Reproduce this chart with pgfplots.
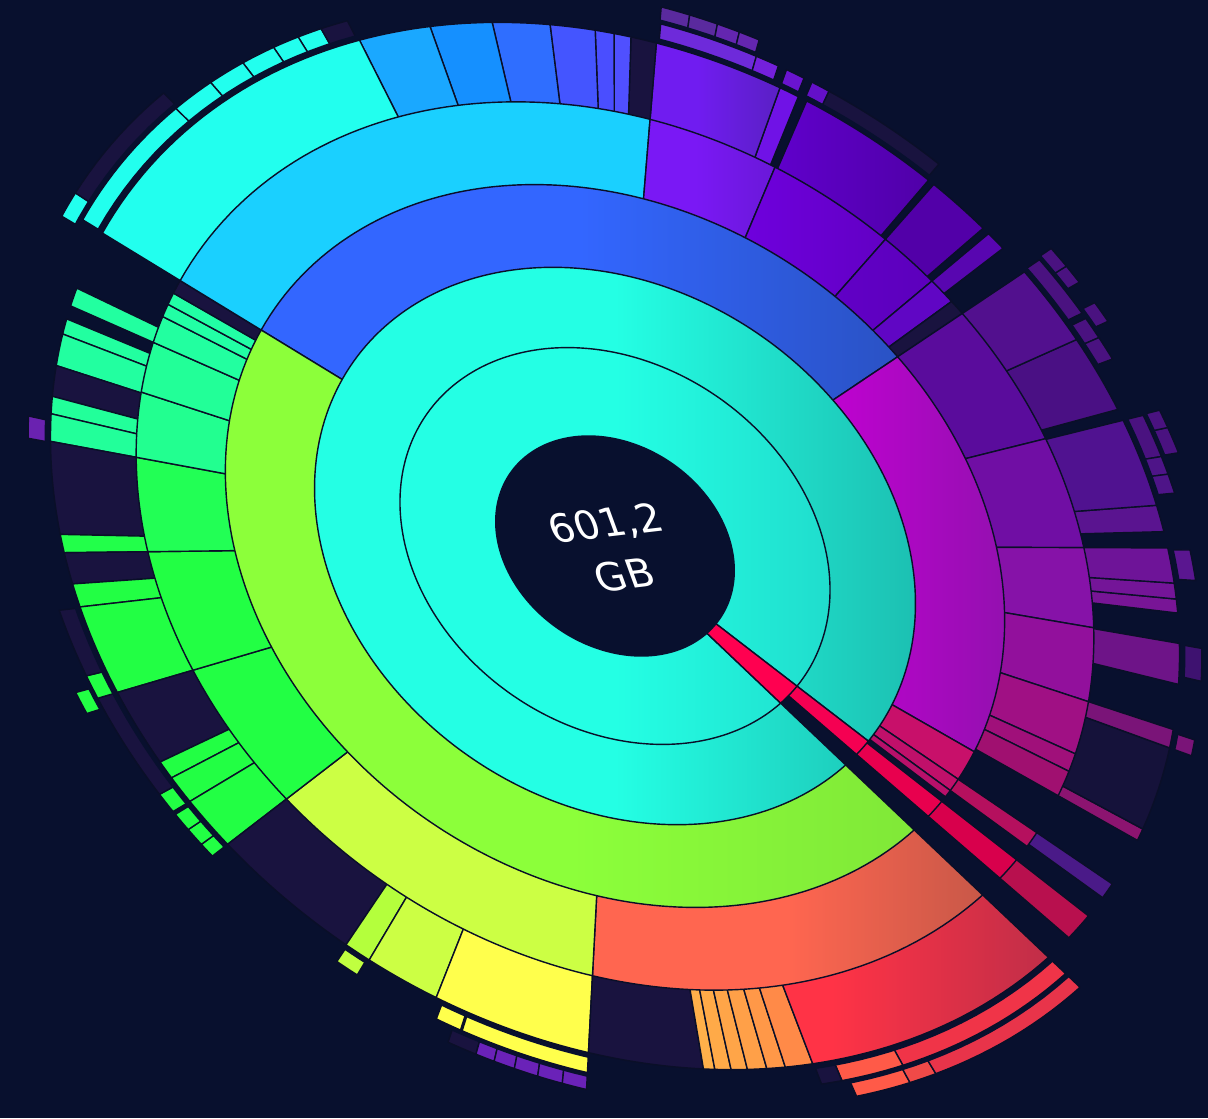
\documentclass[border=0pt]{standalone}
\usepackage{pgfplots}
\usepackage{pgfplotstable}
\pgfplotsset{compat=1.18}
\usepackage{fontspec}
\setmainfont{DejaVu Sans}
\definecolor{bgc}{HTML}{08102E}
\definecolor{linec}{HTML}{0A0F28}

% ring tables: a = start angle, b = end angle (degrees), c = colour (left), d = colour (right)
\pgfplotstableread{
a b c d
-37.6 316.5 24FFE4 20DDCD
-43.5 -37.6 FF0050 FF0050
}\ringA
\pgfplotstableread{
a b c d
-37.6 316.5 24FFE4 1CC0B2
-40.8 -37.6 F50052 F50052
}\ringB
\pgfplotstableread{
a b c d
33.8 148.6 3366FF 2A52C4
148.6 316.5 8CFF3A 80E838
-29.8 33.8 C400D4 9410B0
-34.2 -29.8 C8106A C8106A
-36.1 -34.2 C0106A C0106A
-37.2 -36.1 B8106A B8106A
-40.8 -38.0 E8004E E8004E
}\ringC
\pgfplotstableread{
a b c d
267.0 316.5 FF6650 C85848
217.6 267.0 CCFF44 CCFF44
196.4 217.6 22FF44 22FF44
180.7 196.4 22FF44 22FF44
169.5 180.7 22FF55 22FF55
162.0 169.5 22FF90 22FF90
156.2 162.0 22FF98 22FF98
153.1 156.2 22FFA0 22FFA0
151.6 153.1 22FFA5 22FFA5
150.2 151.6 22FFA5 22FFA5
148.6 150.2 19133F 19133F
85.3 148.6 1AD0FF 1AD0FF
67.1 85.3 7A18F5 6A18D8
48.6 67.1 6E00DC 6200C4
39.9 48.6 6400CC 5C00BC
36.0 39.9 6006C4 6006C4
33.8 36.0 19133F 19133F
14.0 33.8 5A0C9C 5A0C9C
-0.2 14.0 700EA4 700EA4
-9.7 -0.2 8612A8 8612A8
-18.2 -9.7 92109C 92109C
-24.3 -18.2 A01084 A01084
-26.4 -24.3 A0107A A0107A
-29.4 -26.4 A01070 A01070
-36.1 -34.2 B5105E B5105E
-40.8 -38.0 D8004C D8004C
}\ringD
\pgfplotstableread{
a b c d
154.4 156.2 22FFA0 22FFA0
157.5 159.0 22FFA0 22FFA0
159.0 162.1 22FFA0 22FFA0
162.1 165.1 19133F 19133F
165.1 166.8 22FF9A 22FF9A
166.8 169.5 22FF9A 22FF9A
169.5 178.8 19133F 19133F
178.8 180.7 22FF4A 22FF4A
180.7 184.0 19133F 19133F
184.0 186.5 22FF44 22FF44
186.5 196.4 22FF44 22FF44
196.4 205.4 19133F 19133F
205.4 207.6 22FF44 22FF44
207.6 211.0 22FF44 22FF44
211.0 217.6 22FF44 22FF44
217.6 236.0 19133F 19133F
236.0 239.3 B4FF3C B4FF3C
239.3 248.4 CCFF44 CCFF44
248.4 267.0 FFFF4C FFFF4C
267.0 279.6 19133F 19133F
279.6 280.8 FFB04A FFB04A
280.8 282.5 FFAA48 FFAA48
282.5 284.2 FFA548 FFA548
284.2 286.2 FFA048 FFA048
286.2 288.1 FF9848 FF9848
288.1 290.9 FF8A48 FF8A48
290.9 316.5 FF3346 C02E48
-40.8 -38.0 B8104E B8104E
-35.8 -34.2 4A1A88 4A1A88
-29.4 -28.2 8C1470 8C1470
-28.2 -20.0 15123A 15123A
-20.0 -18.2 7A1478 7A1478
-13.8 -9.8 6E1488 6E1488
-6.8 -5.4 781596 781596
-5.4 -3.8 741598 741598
-3.8 -0.2 6E1498 6E1498
1.5 4.3 5A1490 5A1490
4.3 13.9 501290 501290
15.2 24.1 4A1084 4A1084
24.1 33.8 52108E 52108E
37.5 39.9 5806B0 5806B0
40.8 48.6 5200A8 5200A8
49.4 66.7 6000CC 5000A8
67.8 70.2 7012E6 7012E6
70.2 85.3 701CF0 5A20C4
85.3 88.2 19133F 19133F
88.2 90.1 5050FF 5050FF
90.1 92.2 4A4EFF 4A4EFF
92.2 97.1 4455FF 4455FF
97.1 103.2 2F6EFF 2F6EFF
103.2 109.6 1590FF 1590FF
109.6 116.8 1AA8FF 1AA8FF
116.8 148.6 22FFEE 22FFEE
}\ringE
\pgfplotstableread{
a b c d
119.6 121.9 22FFEE 22FFEE
121.9 124.4 22FFEE 22FFEE
124.4 127.6 22FFEE 22FFEE
127.6 131.1 22FFEE 22FFEE
131.1 135.1 22FFEE 22FFEE
135.1 148.5 22FFEE 22FFEE
117.0 119.6 19133F 19133F
73.9 85.0 6E2ADA 6E2ADA
71.2 73.9 7420DC 7420DC
68.0 70.2 6A14D0 6A14D0
64.8 67.0 6410C8 6410C8
49.7 64.8 19133F 19133F
26.5 34.0 4A1280 4A1280
23.3 25.8 4A1280 4A1280
20.6 23.3 4A1280 4A1280
9.3 13.9 4A1280 4A1280
7.4 9.3 4E1488 4E1488
5.4 7.4 4E1488 4E1488
-3.4 -0.4 5A1690 5A1690
-13.0 -9.9 3E1270 3E1270
-20.0 -18.5 7A1478 7A1478
-61.0 -43.5 F03448 F03448
-67.0 -61.0 FF5A48 FF5A48
-69.0 -67.0 19133F 19133F
252.5 267.0 FFFF4C FFFF4C
249.3 252.3 FFFF4C FFFF4C
236.2 239.0 C0FF40 C0FF40
215.8 217.6 22FF44 22FF44
213.6 215.8 22FF44 22FF44
211.4 213.6 22FF44 22FF44
208.6 211.0 22FF44 22FF44
196.4 208.6 19133F 19133F
193.8 196.4 22FF44 22FF44
186.6 193.8 19133F 19133F
167.5 169.6 6A22B0 6A22B0
}\ringF
\pgfplotstableread{
a b c d
146.8 149.2 22FFEE 22FFEE
134.9 146.8 19133F 19133F
82.0 85.1 5A2A9E 5A2A9E
78.9 82.0 5A2A9E 5A2A9E
76.4 78.9 6426B0 6426B0
74.1 76.4 6426B0 6426B0
29.6 31.8 4A1280 4A1280
31.8 34.3 4A1280 4A1280
24.5 26.9 4A1280 4A1280
9.4 12.1 4A1280 4A1280
12.1 14.0 4A1280 4A1280
-66.3 -61.2 FF5A48 FF5A48
-61.2 -58.7 F04A48 F04A48
-58.7 -43.5 E8344A E8344A
251.4 254.7 19133F 19133F
254.7 256.8 6A22B8 6A22B8
256.8 259.1 6A22B8 6A22B8
259.1 261.7 6A22B8 6A22B8
261.7 264.4 6A22B8 6A22B8
264.4 267.0 6A22B8 6A22B8
195.2 197.6 22FF44 22FF44
}\ringG

% #1 table, #2 minor semi-axis, #3 axis ratio, #4 tag
\newcommand{\drawring}[4]{%
  \pgfplotstablegetrowsof{#1}%
  \pgfmathtruncatemacro\nrows{\pgfplotsretval-1}%
  \pgfplotsforeachungrouped \segi in {0,...,\nrows}{%
    \pgfplotstablegetelem{\segi}{a}\of#1\let\SA\pgfplotsretval
    \pgfplotstablegetelem{\segi}{b}\of#1\let\SB\pgfplotsretval
    \pgfplotstablegetelem{\segi}{c}\of#1\let\SC\pgfplotsretval
    \pgfplotstablegetelem{\segi}{d}\of#1\let\SD\pgfplotsretval
    \definecolor{segl#4\segi}{HTML}{\SC}%
    \definecolor{segr#4\segi}{HTML}{\SD}%
    \pgfmathtruncatemacro\ns{max(4,abs((\SB)-(\SA))/1.2+3)}%
    \edef\doplot{\noexpand\addplot[wedge,left color=segl#4\segi,right color=segr#4\segi,middle color=segl#4\segi,domain=\SA:\SB,samples=\ns] {#2/sqrt((cos(x-145)/#3)^2+(sin(x-145))^2)} -- (axis cs:0,0) -- cycle;}%
    \doplot
  }%
}
\newcommand{\bgell}[2]{%
  \addplot[data cs=polar,fill=bgc,draw=none,domain=0:360,samples=241] {#1/sqrt((cos(x-145)/#2)^2+(sin(x-145))^2)} -- cycle;}

\begin{document}
\begin{tikzpicture}
\begin{axis}[
  scale only axis, width=12.08cm, height=11.18cm,
  xmin=-615, xmax=593, ymin=-572, ymax=546,
  axis lines=none, xtick=\empty, ytick=\empty,
  axis background/.style={fill=bgc},
  no markers,
  wedge/.style={data cs=polar, draw=linec, line width=0.4pt, line join=round},
]
\drawring{\ringG}{516}{1.25}{g}
\bgell{504}{1.25}
\drawring{\ringF}{500}{1.25}{f}
\bgell{486}{1.25}
\drawring{\ringE}{481}{1.25}{e}
\bgell{408}{1.25}
\drawring{\ringD}{408}{1.25}{d}
\bgell{332}{1.25}
\drawring{\ringC}{332}{1.25}{c}
\bgell{256}{1.25}
\drawring{\ringB}{256}{1.25}{b}
\drawring{\ringA}{181}{1.27}{a}
\bgell{101}{1.27}
\coordinate (C) at (axis cs:0,-3);
\end{axis}
\begin{scope}[shift={(C)}]
\node[cm={1.119,0.131,-0.399,1.088,(0,0)}, text=white, align=center,
  font=\fontsize{10}{13.5}\selectfont, inner sep=0pt] at (0,0) {601,2\\GB};
\end{scope}
\end{tikzpicture}
\end{document}
